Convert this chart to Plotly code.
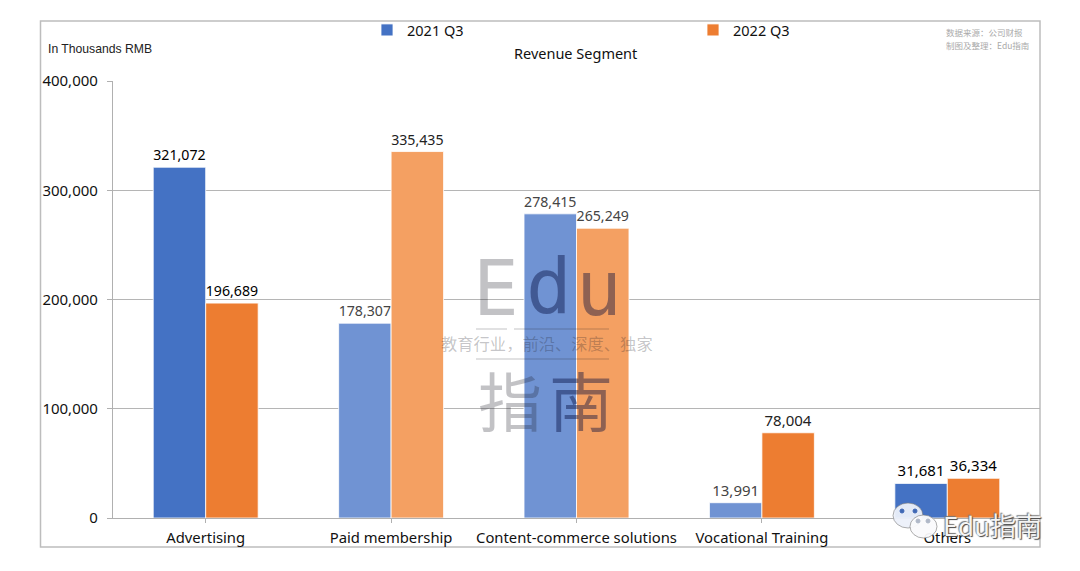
import plotly.graph_objects as go

# the page sits 8px in from the window edge, so the figure is 16px smaller
W, H = 1064, 555
LEFT, RIGHT, TOP, BOTTOM = 113, 1040, 81, 518

categories = ["Advertising", "Paid membership", "Content-commerce solutions", "Vocational Training", "Others"]
q3_2021 = [321072, 178307, 278415, 13991, 31681]
q3_2022 = [196689, 335435, 265249, 78004, 36334]
y_ticks = [0, 100000, 200000, 300000, 400000]

BLUE, BLUE_LIGHT = "#4472C4", "#7093D3"
ORANGE, ORANGE_LIGHT = "#ED7D31", "#F4A062"
colors_2021 = [BLUE, BLUE_LIGHT, BLUE_LIGHT, BLUE_LIGHT, BLUE]
colors_2022 = [ORANGE, ORANGE_LIGHT, ORANGE_LIGHT, ORANGE, ORANGE]
label_colors_2021 = ["#000", "#444", "#444", "#444", "#000"]
label_colors_2022 = ["#000", "#222", "#444", "#222", "#000"]

FONT = "Noto Sans"


# window pixels to paper coordinates (paper = plot area)
def px_x(x):
    return (x - LEFT) / (RIGHT - LEFT)


def px_y(y):
    return (BOTTOM - y) / (BOTTOM - TOP)


def note(x, y, text, size, color="#111", font=FONT, anchor="center", **kw):
    return dict(xref="paper", yref="paper", x=px_x(x), y=px_y(y), text=text, showarrow=False,
                xanchor=anchor, yanchor="middle", font=dict(family=font, size=size, color=color, **kw))


def rect(x0, y0, x1, y1, color, width=1.5):
    return dict(type="rect", xref="paper", yref="paper", x0=px_x(x0), x1=px_x(x1), y0=px_y(y0), y1=px_y(y1),
                line=dict(color=color, width=width), layer="below")


def seg(x0, x1, y, color, width=1):
    return dict(type="line", xref="paper", yref="paper", x0=px_x(x0), x1=px_x(x1), y0=px_y(y), y1=px_y(y),
                line=dict(color=color, width=width))


def bubble(x0, y0, x1, y1, fill, edge="rgba(120,120,120,0.6)"):
    return dict(type="circle", xref="paper", yref="paper", x0=px_x(x0), x1=px_x(x1), y0=px_y(y0), y1=px_y(y1),
                fillcolor=fill, line=dict(color=edge, width=1))


def dot(x, y, color="#3f68b5"):
    return bubble(x - 2, y - 2, x + 2, y + 2, color, edge=color)


fig = go.Figure()
for name, vals, cols, lcols in [
    ("2021 Q3", q3_2021, colors_2021, label_colors_2021),
    ("2022 Q3", q3_2022, colors_2022, label_colors_2022),
]:
    fig.add_trace(go.Bar(
        x=categories, y=vals, name=name,
        marker=dict(color=cols, line=dict(color="white", width=0.8)),
        texttemplate="%{y:,}", textposition="outside", cliponaxis=False,
        textfont=dict(family=FONT, size=15, color=lcols),
    ))

grey = "rgba(30,30,40,0.27)"
dark = "rgba(0,10,60,0.42)"

annotations = [
    note(46, 49, "In Thousands RMB", 12.2, color="#222", font="Liberation Sans", anchor="left"),
    note(575, 53, "Revenue Segment", 14.5),
    note(944, 32, "数据来源：公司财报", 8.5, color="#aaa", font="Noto Sans CJK SC", anchor="left"),
    note(944, 45, "制图及整理：Edu指南", 8.5, color="#aaa", font="Noto Sans CJK SC", anchor="left"),
    # centre watermark
    note(496, 288, "E", 76, color=grey, font="DejaVu Sans Mono"),
    note(549, 286, "d", 76, color=dark, font="DejaVu Sans Mono"),
    note(599, 288, "u", 76, color=dark, font="DejaVu Sans Mono"),
    note(547, 343, "教育行业，前沿、深度、独家", 16.3, color=grey, font="Noto Sans CJK SC"),
    note(510, 398, "指", 64, color=grey, font="Noto Sans CJK SC"),
    note(581, 398, "南", 64, color=dark, font="Noto Sans CJK SC"),
    # bottom right watermark
    note(941, 524, "Edu指南", 26, color="#f4f4f4", font="Noto Sans CJK SC", anchor="left",
         shadow="1px 1px 1px #444, -1px -1px 1px #777"),
]

shapes = [
    rect(40.5, 21, RIGHT, 547, "#bdbdbd"),
    seg(476, 507, 329, grey),
    seg(514, 609, 329, grey),
    seg(476, 609, 359, grey),
    bubble(893, 503, 923, 528, "rgba(236,240,250,0.95)"),
    bubble(910, 515, 937, 538, "rgba(250,250,252,0.95)"),
    dot(902, 511),
    dot(915, 511),
    dot(918, 521, "#b0b8c8"),
    dot(928, 521, "#b0b8c8"),
]

fig.update_layout(
    width=W, height=H,
    margin=dict(l=LEFT - 8, r=W - (RIGHT - 8), t=TOP - 8, b=H - (BOTTOM - 8)),
    paper_bgcolor="white", plot_bgcolor="white",
    barmode="group", bargap=0.434, bargroupgap=0,
    font=dict(family=FONT, color="#111"),
    showlegend=True,
    legend=dict(orientation="h", xref="container", yref="container", x=(367 - 8) / W, y=1 - (30 - 8) / H,
                xanchor="left", yanchor="middle",
                entrywidth=281, entrywidthmode="pixels", traceorder="normal",
                font=dict(family=FONT, size=14.5, color="#111"), bgcolor="rgba(0,0,0,0)"),
    xaxis=dict(tickfont=dict(family=FONT, size=14.8, color="#111"), showline=True, linecolor="#b0b0b0",
               linewidth=1, ticks="outside", ticklen=4, tickcolor="#b0b0b0", showgrid=False,
               ticklabelstandoff=2, automargin=False),
    yaxis=dict(range=[0, 400000], tickvals=y_ticks, tickformat=",", ticks="outside", ticklen=5,
               tickcolor="#b0b0b0", showline=True, linecolor="#b0b0b0", linewidth=1.2, showgrid=True,
               gridcolor="#b5b5b5", gridwidth=1.2, zeroline=False, ticklabelstandoff=6, automargin=False,
               tickfont=dict(family=FONT, size=15, color="#111")),
    annotations=annotations, shapes=shapes,
)

fig.write_html("out.html")
